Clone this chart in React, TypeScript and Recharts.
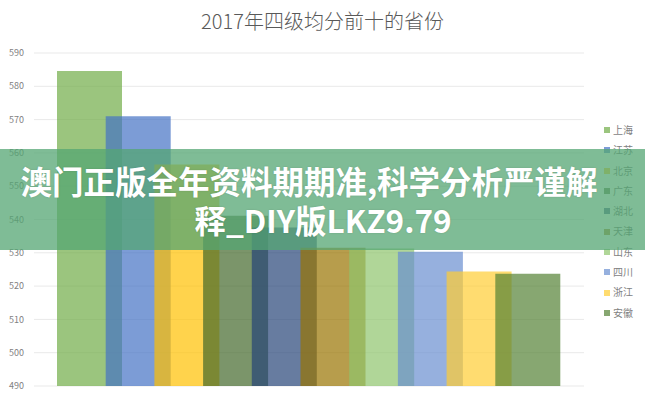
import { BarChart, Bar, XAxis, YAxis, CartesianGrid } from 'recharts'

const provinces = ['上海', '江苏', '北京', '广东', '湖北', '天津', '山东', '四川', '浙江', '安徽']
const scores = [584.6, 571.0, 556.5, 541.1, 537.6, 531.5, 531.3, 530.3, 524.4, 523.7]
const colors = ['#70AD47', '#4472C4', '#FFC000', '#43682B', '#264478', '#997300', '#8FC46C', '#698ED0', '#FFCD33', '#548235']
const yTicks = [490, 500, 510, 520, 530, 540, 550, 560, 570, 580, 590]

const title = '2017年四级均分前十的省份'
const bannerLines = ['澳门正版全年资料期期准,科学分析严谨解', '释_DIY版LKZ9.79']

const row: Record<string, number | string> = { name: '2017' }
provinces.forEach((p, i) => { row[p] = scores[i] })
const data = [row]

const font = '"Noto Sans CJK SC", "Noto Sans", sans-serif'

export default function App() {
  return (
    <div style={{ position: 'absolute', left: 0, top: 0, width: 645, height: 400, background: '#fff', fontFamily: font, overflow: 'hidden' }}>
      <div style={{ position: 'absolute', left: 0, top: 6, width: 645, textAlign: 'center', fontSize: 20, color: '#595959', fontWeight: 300 }}>
        {title}
      </div>
      <BarChart
        width={645}
        height={400}
        data={data}
        margin={{ top: 53, right: 61, bottom: 14, left: 2 }}
        barSize={65}
        barGap={-16.3}
      >
        <CartesianGrid vertical={false} stroke="#e9e9e9" />
        <XAxis dataKey="name" hide />
        <YAxis
          width={32}
          domain={[490, 590]}
          ticks={yTicks}
          axisLine={false}
          tickLine={false}
          tickMargin={4}
          tick={{ fontSize: 9, fill: '#7f7f7f', fontFamily: font }}
        />
        {provinces.map((p, i) => (
          <Bar key={p} dataKey={p} fill={colors[i]} fillOpacity={0.7} isAnimationActive={false} />
        ))}
      </BarChart>
      <div style={{ position: 'absolute', left: 604, top: 120, fontSize: 10, color: '#7f7f7f', lineHeight: '20.3px' }}>
        {provinces.map((p, i) => (
          <div key={p} style={{ display: 'flex', alignItems: 'center', whiteSpace: 'nowrap' }}>
            <span style={{ width: 6, height: 6, background: colors[i], opacity: 0.7, marginRight: 3 }} />
            {p}
          </div>
        ))}
      </div>
      <div style={{ position: 'absolute', left: 0, top: 149, width: 645, height: 101, background: 'rgba(84,165,115,0.75)' }} />
      <div style={{ position: 'absolute', left: 0, top: 161, width: 618, textAlign: 'center', color: '#fff', fontWeight: 700, fontSize: 31.5, lineHeight: '39px', textShadow: '0 0 2px rgba(0,0,0,0.15)' }}>
        {bannerLines.map((l, i) => <div key={l} style={{ height: 39, paddingLeft: i === 1 ? 28 : 0 }}>{l}</div>)}
      </div>
    </div>
  )
}
